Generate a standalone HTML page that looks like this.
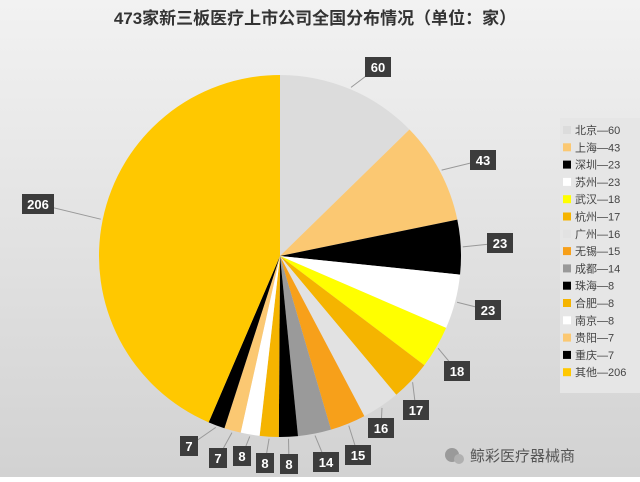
<!DOCTYPE html>
<html><head><meta charset="utf-8"><style>
body{margin:0;width:640px;height:477px;overflow:hidden;font-family:"Liberation Sans","Noto Sans CJK SC",sans-serif;}
</style></head><body>
<svg id="s" width="640" height="477" xmlns="http://www.w3.org/2000/svg">
<defs><linearGradient id="bg" x1="0" y1="0" x2="0" y2="1"><stop offset="0" stop-color="#f2f2f2"/><stop offset="1" stop-color="#d2d2d2"/></linearGradient></defs>
<rect width="640" height="477" fill="url(#bg)"/>
<text x="315" y="24" text-anchor="middle" font-size="17" font-weight="bold" fill="#333" font-family="Liberation Sans,Noto Sans CJK SC,sans-serif">473家新三板医疗上市公司全国分布情况（单位：家）</text>
<rect x="560" y="118" width="80" height="275" fill="#e6e6e6"/>
<g id="pie"></g><g id="lab"></g><g id="leg"></g>
<circle cx="452" cy="455" r="7" fill="#9a9a9a"/><circle cx="459" cy="459" r="5" fill="#b0b0b0"/>
<text x="470" y="461" font-size="15" fill="#555" font-family="Liberation Sans,Noto Sans CJK SC,sans-serif">鲸彩医疗器械商</text>
</svg>
<script>
var d=[["北京",60,"#dcdcdc",378,67],["上海",43,"#fbc872",483,160],["深圳",23,"#000000",500,243],["苏州",23,"#ffffff",488,310],["武汉",18,"#ffff00",457,371],["杭州",17,"#f5b400",416,410],["广州",16,"#e2e2e2",381,428],["无锡",15,"#f7a01a",358,455],["成都",14,"#9a9a9a",326,462],["珠海",8,"#000000",289,464],["合肥",8,"#f5b400",265,463],["南京",8,"#ffffff",242,456],["贵阳",7,"#fbc872",218,458],["重庆",7,"#000000",189,446],["其他",206,"#ffc800",38,204]];
var cx=280,cy=256,r=181,a=0,T=473,p="",l="",g="",ns="http://www.w3.org/2000/svg";
d.forEach(function(e,i){var a1=a+e[1]/T*2*Math.PI;var x0=cx+r*Math.sin(a),y0=cy-r*Math.cos(a),x1=cx+r*Math.sin(a1),y1=cy-r*Math.cos(a1);
p+='<path d="M'+cx+','+cy+'L'+x0+','+y0+'A'+r+','+r+' 0 '+((a1-a)>Math.PI?1:0)+' 1 '+x1+','+y1+'Z" fill="'+e[2]+'"/>';
var m=(a+a1)/2,ex=cx+(r+2)*Math.sin(m),ey=cy-(r+2)*Math.cos(m),s=String(e[1]),w=s.length==1?18:(s.length==2?26:32);
l+='<polyline points="'+ex+','+ey+' '+e[3]+','+e[4]+'" fill="none" stroke="#999" stroke-width="1"/>';
l+='<rect x="'+(e[3]-w/2)+'" y="'+(e[4]-10)+'" width="'+w+'" height="20" fill="#3c3c3c"/><text x="'+e[3]+'" y="'+(e[4]+5)+'" text-anchor="middle" font-size="13" font-weight="bold" fill="#fff">'+s+'</text>';
var ly=130+i*17.3;g+='<rect x="563" y="'+(ly-4)+'" width="8" height="8" fill="'+e[2]+'"/><text x="575" y="'+(ly+4)+'" font-size="11" fill="#444" font-family="Liberation Sans,Noto Sans CJK SC,sans-serif">'+e[0]+'—'+s+'</text>';
a=a1;});
document.getElementById("pie").innerHTML=p;document.getElementById("lab").innerHTML=l;document.getElementById("leg").innerHTML=g;
</script>
</body></html>
